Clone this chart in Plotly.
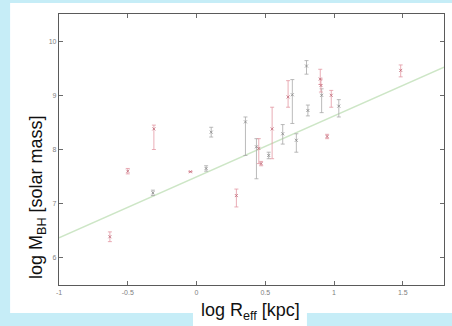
import plotly.graph_objects as go

# Red-coloured measurements
red_x = [-0.63, -0.50, -0.31, -0.044, 0.29, 0.453, 0.47, 0.55, 0.666, 0.90, 0.905, 0.95, 0.98, 1.485]
red_y = [6.39, 7.60, 8.38, 7.59, 7.15, 8.02, 7.74, 8.38, 8.97, 9.30, 9.18, 8.24, 9.00, 9.46]
red_up = [0.09, 0.05, 0.07, 0.0, 0.12, 0.18, 0.04, 0.40, 0.30, 0.18, 0.12, 0.04, 0.09, 0.10]
red_dn = [0.09, 0.05, 0.38, 0.0, 0.21, 0.28, 0.04, 0.55, 0.19, 0.10, 0.12, 0.04, 0.22, 0.12]

# Grey measurements
grey_x = [-0.317, 0.07, 0.107, 0.356, 0.436, 0.525, 0.627, 0.697, 0.726, 0.80, 0.81, 0.91, 1.035]
grey_y = [7.20, 7.65, 8.32, 8.51, 8.05, 7.89, 8.29, 9.01, 8.17, 9.54, 8.72, 9.00, 8.80]
grey_up = [0.05, 0.05, 0.09, 0.09, 0.15, 0.06, 0.17, 0.28, 0.12, 0.10, 0.10, 0.12, 0.12]
grey_dn = [0.05, 0.05, 0.09, 0.62, 0.59, 0.06, 0.19, 0.53, 0.22, 0.15, 0.10, 0.32, 0.20]

# Fit line end points
fit_x = [-1.0, 1.8]
fit_y = [6.37, 9.52]

x_ticks = [-1, -0.5, 0, 0.5, 1, 1.5]
x_tick_labels = ["-1", "-0.5", "0", "0.5", "1", "1.5"]
y_ticks = [6, 7, 8, 9, 10]
y_tick_labels = ["6", "7", "8", "9", "10"]

fig = go.Figure()

fig.add_trace(go.Scatter(
    x=fit_x, y=fit_y, mode="lines",
    line=dict(color="#cde6c6", width=1.4), hoverinfo="skip", showlegend=False))

fig.add_trace(go.Scatter(
    x=grey_x, y=grey_y, mode="markers",
    marker=dict(symbol="x-thin", size=3, color="#8a8a8a", line=dict(width=0.8, color="#8a8a8a")),
    error_y=dict(type="data", symmetric=False, array=grey_up, arrayminus=grey_dn,
                 color="#a8a8a8", thickness=0.8, width=2),
    showlegend=False))

fig.add_trace(go.Scatter(
    x=red_x, y=red_y, mode="markers",
    marker=dict(symbol="x-thin", size=3, color="#c06a78", line=dict(width=0.8, color="#c06a78")),
    error_y=dict(type="data", symmetric=False, array=red_up, arrayminus=red_dn,
                 color="#e398a3", thickness=0.8, width=2),
    showlegend=False))

axis_common = dict(
    showgrid=False, zeroline=False, showline=True, linecolor="#5a5a5a", linewidth=1.2,
    mirror="ticks", ticks="inside", ticklen=4, tickcolor="#6a6a6a",
    tickfont=dict(family="Liberation Sans, Arial", size=7, color="#808080"),
)

fig.update_xaxes(range=[-1, 1.8], tickvals=x_ticks, ticktext=x_tick_labels, **axis_common)
fig.update_yaxes(range=[5.5, 10.5], tickvals=y_ticks, ticktext=y_tick_labels, **axis_common)

shapes = [
    # white slide panel
    dict(type="rect", xref="paper", yref="paper", x0=-0.127, x1=1.1, y0=-0.103, y1=1.041,
         fillcolor="white", line=dict(width=0), layer="below"),
    # white box behind x title
    dict(type="rect", xref="paper", yref="paper", x0=0.348, x1=0.644, y0=-0.2, y1=-0.10,
         fillcolor="white", line=dict(width=0), layer="below"),
]

annotations = [
    dict(text="log M<sub>BH</sub> [solar mass]", xref="paper", yref="paper",
         x=(37 - 59) / 385, y=(285 - 197) / 271, textangle=-90, showarrow=False,
         xanchor="center", yanchor="middle",
         font=dict(family="Liberation Sans, Arial", size=18, color="#111111")),
    dict(text="log R<sub>eff</sub> [kpc]", xref="paper", yref="paper",
         x=(250 - 59) / 385, y=(285 - 311) / 271, showarrow=False,
         xanchor="center", yanchor="middle",
         font=dict(family="Liberation Sans, Arial", size=18, color="#111111")),
]

fig.update_layout(
    width=452, height=326,
    margin=dict(l=59, r=8, t=14, b=41),
    paper_bgcolor="#c6edf7", plot_bgcolor="white",
    shapes=shapes, annotations=annotations,
    showlegend=False,
)

fig.write_html("out.html", config={"displayModeBar": False},
               post_script="document.body.style.margin='0';")
